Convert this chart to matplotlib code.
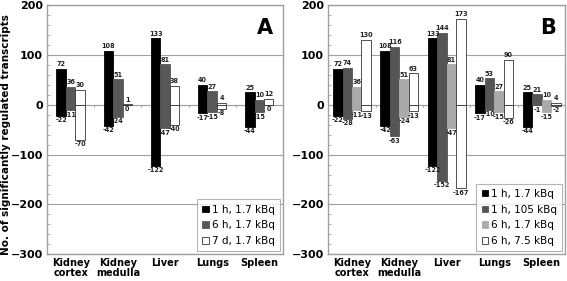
import numpy as np
import matplotlib
matplotlib.use('Agg')
import matplotlib.pyplot as plt
from matplotlib.ticker import MultipleLocator

categories = ['Kidney\ncortex', 'Kidney\nmedulla', 'Liver', 'Lungs', 'Spleen']

# panel A
a_labels = ['1 h, 1.7 kBq', '6 h, 1.7 kBq', '7 d, 1.7 kBq']
a_up = [[72, 108, 133, 40, 25],
        [36, 51, 81, 27, 10],
        [30, 1, 38, 4, 12]]
a_down = [[-22, -42, -122, -17, -44],
          [-11, -24, -47, -15, -15],
          [-70, 0, -40, -8, 0]]
a_colors = ['#000000', '#585858', '#ffffff']

# panel B
b_labels = ['1 h, 1.7 kBq', '1 h, 105 kBq', '6 h, 1.7 kBq', '6 h, 7.5 kBq']
b_up = [[72, 108, 133, 40, 25],
        [74, 116, 144, 53, 21],
        [36, 51, 81, 27, 10],
        [130, 63, 173, 90, 4]]
b_down = [[-22, -42, -122, -17, -44],
          [-28, -63, -152, -10, -1],
          [-11, -24, -47, -15, -15],
          [-13, -13, -167, -26, -2]]
b_colors = ['#000000', '#555555', '#aaaaaa', '#ffffff']

GRAY = '#a0a0a0'


def draw_panel(ax, up, down, labels, colors, letter):
    n = len(up)
    w = 0.2
    x = np.arange(len(categories))
    for i in range(n):
        pos = x + (i - (n - 1) / 2) * w
        ec = '#333333' if colors[i] == '#ffffff' else colors[i]
        ax.bar(pos, up[i], w, color=colors[i], edgecolor=ec, linewidth=0.6,
               label=labels[i], zorder=3)
        ax.bar(pos, down[i], w, color=colors[i], edgecolor=ec, linewidth=0.6,
               zorder=3)
        for p, u, d in zip(pos, up[i], down[i]):
            ax.text(p, u + 3, str(u), ha='center', va='bottom', fontsize=4.7,
                    fontweight='bold', color='#222222', zorder=4)
            ax.text(p, d - 3, str(d), ha='center', va='top', fontsize=4.7,
                    fontweight='bold', color='#222222', zorder=4)

    ax.set_xlim(-0.5, len(categories) - 0.5)
    ax.set_ylim(-300, 200)
    ax.yaxis.set_major_locator(MultipleLocator(100))
    ax.yaxis.set_minor_locator(MultipleLocator(20))
    ax.grid(axis='y', color=GRAY, linewidth=0.8, zorder=0)
    ax.axhline(0, color=GRAY, linewidth=0.8, zorder=1)
    for b in np.arange(0.5, len(categories) - 1, 1):
        ax.plot([b, b], [0, -4], color=GRAY, linewidth=0.6, zorder=1)

    ax.set_xticks(np.arange(len(categories)))
    ax.set_xticklabels(categories, fontsize=7, fontweight='bold',
                       linespacing=1.0)
    ax.tick_params(axis='x', length=0, pad=3)
    ax.tick_params(axis='y', which='both', direction='in', color=GRAY,
                   labelsize=8, pad=3)
    ax.tick_params(axis='y', which='major', length=3)
    ax.tick_params(axis='y', which='minor', length=2)
    for t in ax.get_yticklabels():
        t.set_fontweight('bold')
    for s in ax.spines.values():
        s.set_color(GRAY)
        s.set_linewidth(1.0)

    ax.text(0.96, 0.95, letter, transform=ax.transAxes, ha='right', va='top',
            fontsize=15, fontweight='bold')
    leg = ax.legend(loc='lower right', fontsize=7.5, frameon=True, fancybox=False,
                    edgecolor=GRAY, handlelength=0.6, handleheight=0.6,
                    handletextpad=0.3, labelspacing=0.55, borderpad=0.5,
                    borderaxespad=0.3)
    leg.get_frame().set_linewidth(0.8)


fig = plt.figure(figsize=(5.67, 2.81), dpi=100)
ax_a = fig.add_axes([0.083, 0.095, 0.416, 0.887])
ax_b = fig.add_axes([0.579, 0.095, 0.418, 0.887])

draw_panel(ax_a, a_up, a_down, a_labels, a_colors, 'A')
draw_panel(ax_b, b_up, b_down, b_labels, b_colors, 'B')

fig.text(0.002, 0.52, 'No. of significantly regulated transcripts', rotation=90,
         ha='left', va='center', fontsize=7.5, fontweight='bold')

fig.savefig('out.png', dpi=100)
